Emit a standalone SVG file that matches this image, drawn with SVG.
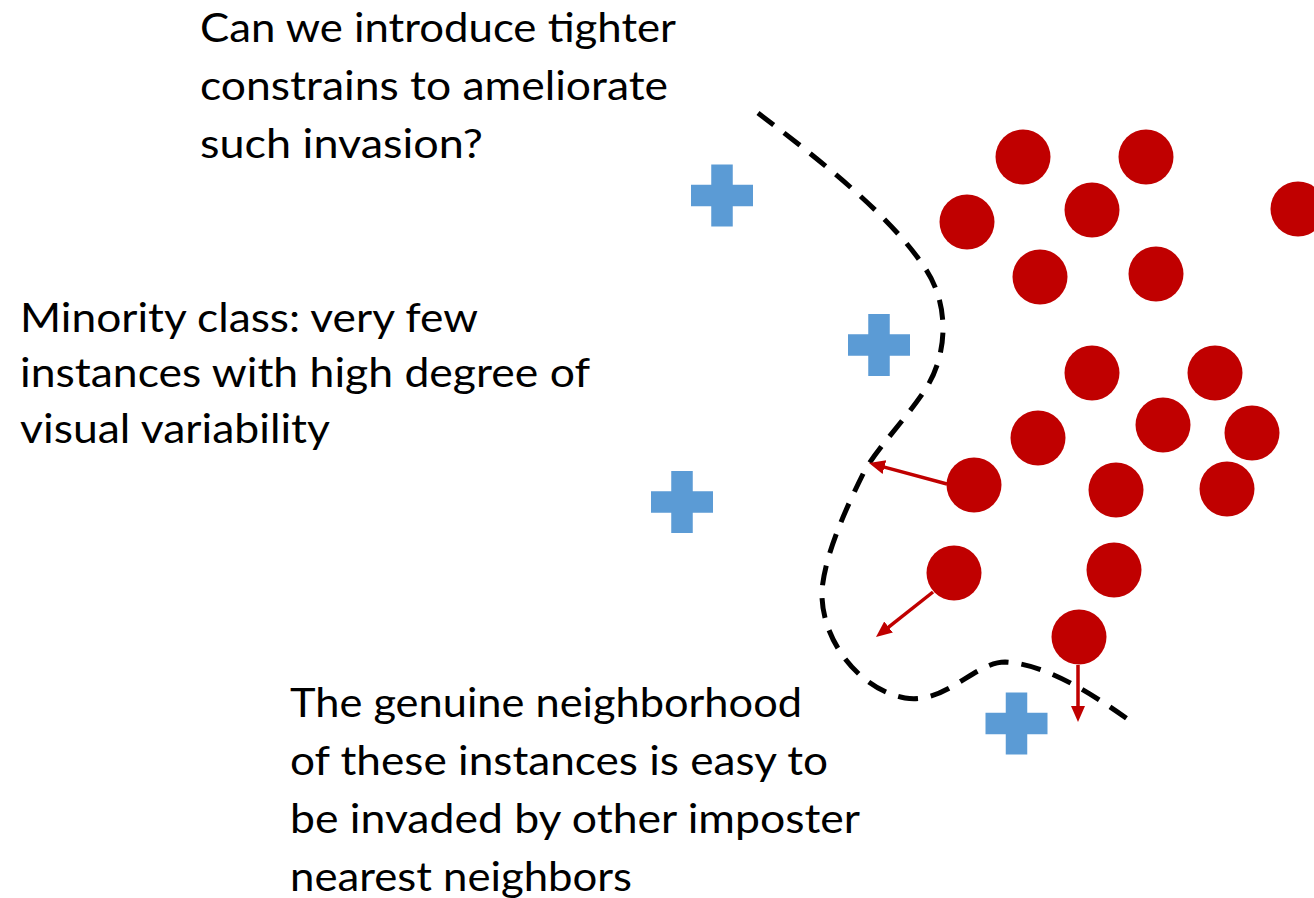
<svg xmlns="http://www.w3.org/2000/svg" xmlns:xlink="http://www.w3.org/1999/xlink" width="1314" height="898" viewBox="0 0 1314 898">
  <style>
    .lbl { font-family: Lato, "Open Sans", "Liberation Sans", sans-serif; font-size: 40px; fill: #000; }
    .neg { fill: #C00000; }
    .pos { fill: #5B9BD5; }
    .boundary { fill: none; stroke: #000; stroke-width: 5; stroke-dasharray: 20 13; }
    .push { fill: none; stroke: #C00000; stroke-width: 3.5; marker-end: url(#redHead); }
  </style>
  <defs>
    <marker id="redHead" markerUnits="userSpaceOnUse" markerWidth="18" markerHeight="16" refX="2" refY="7" orient="auto">
      <path d="M0,0 L16,7 L0,14 z" fill="#C00000"/>
    </marker>
    <path id="plus" d="M-10.75,-31 H10.75 V-10.75 H31 V10.75 H10.75 V31 H-10.75 V10.75 H-31 V-10.75 H-10.75 z"/>
  </defs>
  <rect width="1314" height="898" fill="#fff"/>

  <!-- captions -->
  <g id="question">
    <text class="lbl" x="200" y="42" textLength="476" lengthAdjust="spacingAndGlyphs">Can we introduce tighter</text>
    <text class="lbl" x="200" y="100" textLength="468" lengthAdjust="spacingAndGlyphs">constrains to ameliorate</text>
    <text class="lbl" x="200" y="158" textLength="283" lengthAdjust="spacingAndGlyphs">such invasion?</text>
  </g>
  <g id="minority-note">
    <text class="lbl" x="20" y="332" textLength="458" lengthAdjust="spacingAndGlyphs">Minority class: very few</text>
    <text class="lbl" x="20" y="387" textLength="570" lengthAdjust="spacingAndGlyphs">instances with high degree of</text>
    <text class="lbl" x="20" y="443" textLength="310" lengthAdjust="spacingAndGlyphs">visual variability</text>
  </g>
  <g id="neighborhood-note">
    <text class="lbl" x="290" y="717" textLength="512" lengthAdjust="spacingAndGlyphs">The genuine neighborhood</text>
    <text class="lbl" x="290" y="775" textLength="538" lengthAdjust="spacingAndGlyphs">of these instances is easy to</text>
    <text class="lbl" x="290" y="833" textLength="570" lengthAdjust="spacingAndGlyphs">be invaded by other imposter</text>
    <text class="lbl" x="290" y="891" textLength="342" lengthAdjust="spacingAndGlyphs">nearest neighbors</text>
  </g>

  <!-- decision boundary and impostor pushes -->
  <g id="connectors">
    <path class="boundary" d="M758,113 C820,160 890,215 925,268 C950,305 948,355 925,390 C905,420 880,445 865,470 C845,510 825,555 822,590 C820,640 860,690 905,698 C945,705 975,662 1005,662 C1045,664 1090,692 1133,723"/>
    <path class="push" d="M947,484 L882.5,466.6"/>
    <path class="push" d="M933,592 L887,628.3"/>
    <path class="push" d="M1078,665 L1078,708"/>
  </g>

  <!-- majority class instances -->
  <g id="majority">
    <circle id="n1" class="neg" cx="1023" cy="157" r="27.5"/>
    <circle id="n2" class="neg" cx="1146" cy="157" r="27.5"/>
    <circle id="n3" class="neg" cx="1092" cy="210" r="27.5"/>
    <circle id="n4" class="neg" cx="967" cy="222" r="27.5"/>
    <circle id="n5" class="neg" cx="1298" cy="209" r="27.5"/>
    <circle id="n6" class="neg" cx="1040" cy="277" r="27.5"/>
    <circle id="n7" class="neg" cx="1156" cy="274" r="27.5"/>
    <circle id="n8" class="neg" cx="1092" cy="373" r="27.5"/>
    <circle id="n9" class="neg" cx="1215" cy="373" r="27.5"/>
    <circle id="n10" class="neg" cx="1038" cy="438" r="27.5"/>
    <circle id="n11" class="neg" cx="1163" cy="425" r="27.5"/>
    <circle id="n12" class="neg" cx="1252" cy="433" r="27.5"/>
    <circle id="n13" class="neg" cx="974" cy="485" r="27.5"/>
    <circle id="n14" class="neg" cx="1116" cy="490" r="27.5"/>
    <circle id="n15" class="neg" cx="1227" cy="489" r="27.5"/>
    <circle id="n16" class="neg" cx="954" cy="573" r="27.5"/>
    <circle id="n17" class="neg" cx="1114" cy="570" r="27.5"/>
    <circle id="n18" class="neg" cx="1079" cy="637" r="27.5"/>
  </g>

  <!-- minority class instances -->
  <g id="minority">
    <g id="p1"><use xlink:href="#plus" class="pos" transform="translate(722,195.5)"/></g>
    <g id="p2"><use xlink:href="#plus" class="pos" transform="translate(879,345)"/></g>
    <g id="p3"><use xlink:href="#plus" class="pos" transform="translate(682,502)"/></g>
    <g id="p4"><use xlink:href="#plus" class="pos" transform="translate(1016.5,723.5)"/></g>
  </g>
</svg>
